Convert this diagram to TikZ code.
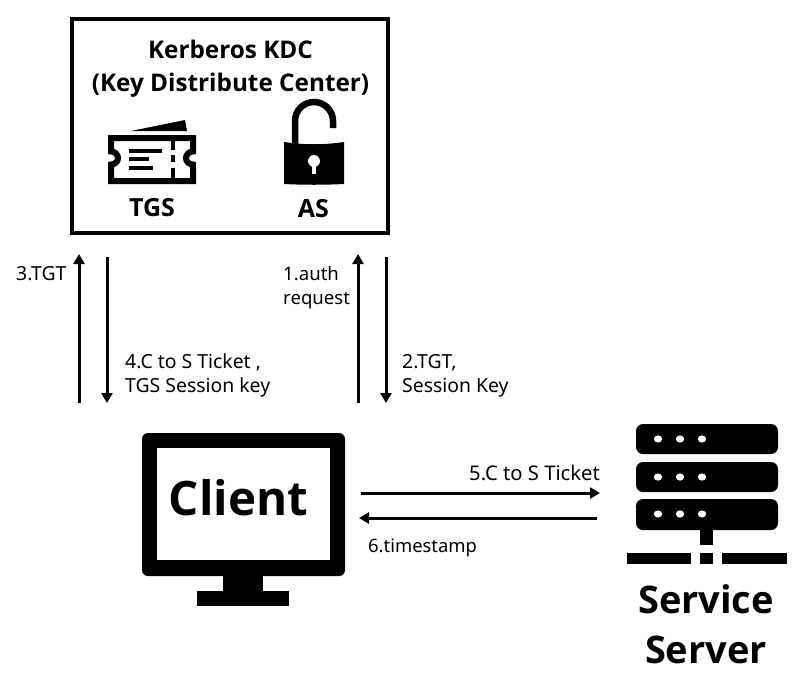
\documentclass[tikz,border=0pt]{standalone}
\usepackage{fontspec}
\setmainfont{Noto Sans}
\newfontfamily\hvy{Open Sans}
\usetikzlibrary{arrows.meta}
\tikzset{
  flow/.style={line width=3pt,-{Triangle[length=10pt,width=11pt]}},
  lbl/.style={font=\fontsize{19.4}{24}\selectfont,align=left,inner sep=0pt,anchor=west},
  head/.style={font=\hvy\bfseries\fontsize{24.3}{33}\selectfont,align=center,inner sep=0pt},
  big/.style={font=\hvy\bfseries\fontsize{47.5}{50}\selectfont,align=center,inner sep=0pt},
}
\begin{document}
\begin{tikzpicture}[x=1pt,y=-1pt]
\useasboundingbox (0,0) rectangle (804,686);
% KDC box
\node[draw,line width=4pt,minimum width=316pt,minimum height=214pt,inner sep=0pt] (kdc) at (229.5,125.5) {};
\node[head] (kdctitle) at (230.5,68.5) {Kerberos KDC\\(Key Distribute Center)};
% ticket
\draw[line width=6pt,miter limit=10] (111,138) -- (193,138) -- (193,151.5) arc[start angle=90,end angle=270,x radius=7pt,y radius=6.5pt] -- (193,181) -- (111,181) -- (111,164.5) arc[start angle=-90,end angle=90,x radius=7pt,y radius=6.5pt] -- cycle;
\fill (131,131) -- (185,120) -- (187,131) -- cycle;
\fill (129,149) rectangle (162,153);
\fill (129,157) rectangle (149,161);
\fill (129,166) rectangle (153,170);
\fill (170.5,141) rectangle (174.5,150);
\fill (170.5,155) rectangle (174.5,162);
\fill (170.5,168) rectangle (174.5,179);
\node[head,font=\hvy\bfseries\fontsize{25}{33}\selectfont] (tgs) at (152,208) {TGS};
% lock
\draw[line width=6.5pt] (295,144) -- (295,121) arc[start angle=180,end angle=0,radius=19pt] -- (333,128);
\fill (284,142) .. controls (304,145) and (324,145) .. (344,142) -- (344,184) .. controls (324,185) and (304,185) .. (284,184) -- cycle;
\fill[white] (314,161) circle[radius=6pt];
\fill[white] (312,162) rectangle (316,174);
\node[head,font=\hvy\bfseries\fontsize{25}{33}\selectfont] (as) at (313.5,209) {AS};
% client monitor
\fill[rounded corners=6pt] (142,433) rectangle (345,576);
\node[fill=white,minimum width=173pt,minimum height=112pt,inner sep=0pt] (screen) at (243.5,504) {};
\fill (223,570) rectangle (263,592);
\fill (197,591) rectangle (289,606);
\node[big] (client) at (238.5,498) {Client};
% server
\foreach \y/\h in {424/30,462/30,499/31}{
  \fill[rounded corners=7pt] (636,\y) rectangle (778,\y+\h);
  \foreach \x in {658,680,702}
    \fill[white] (\x,\y+15) ellipse[x radius=4.2pt,y radius=3.6pt];
}
\fill (700,528) rectangle (713,545);
\fill (627,553) rectangle (691,564);
\fill (700,553) rectangle (713,564);
\fill (722,553) rectangle (787,564);
\node[big] (service) at (706,624) {\fontsize{38}{48}\selectfont Service\\\fontsize{38}{48}\selectfont Server};
% connectors
\coordinate (a1) at (79,403); \coordinate (a2) at (79,254);
\coordinate (b1) at (107,257); \coordinate (b2) at (107,403);
\coordinate (c1) at (358,403); \coordinate (c2) at (358,254);
\coordinate (d1) at (386,257); \coordinate (d2) at (386,403);
\coordinate (e1) at (361,493); \coordinate (e2) at (600,493);
\coordinate (f1) at (597,518); \coordinate (f2) at (359,518);
\draw[flow] (a1) -- (a2);
\draw[flow] (b1) -- (b2);
\draw[flow] (c1) -- (c2);
\draw[flow] (d1) -- (d2);
\draw[flow] (e1) -- (e2);
\draw[flow] (f1) -- (f2);
% labels
\node[lbl] (l3) at (16,274) {3.TGT};
\node[lbl,font=\fontsize{18.6}{24}\selectfont] (l1) at (283,287.5) {1.auth\\request};
\node[lbl] (l4) at (125,375.5) {4.C to S Ticket ,\\TGS Session key};
\node[lbl] (l2) at (402,375.5) {2.TGT,\\Session Key};
\node[lbl,font=\fontsize{20.2}{24}\selectfont] (l5) at (469,473) {5.C to S Ticket};
\node[lbl,font=\fontsize{18.4}{24}\selectfont] (l6) at (368,547.5) {6.timestamp};
\end{tikzpicture}
\end{document}
